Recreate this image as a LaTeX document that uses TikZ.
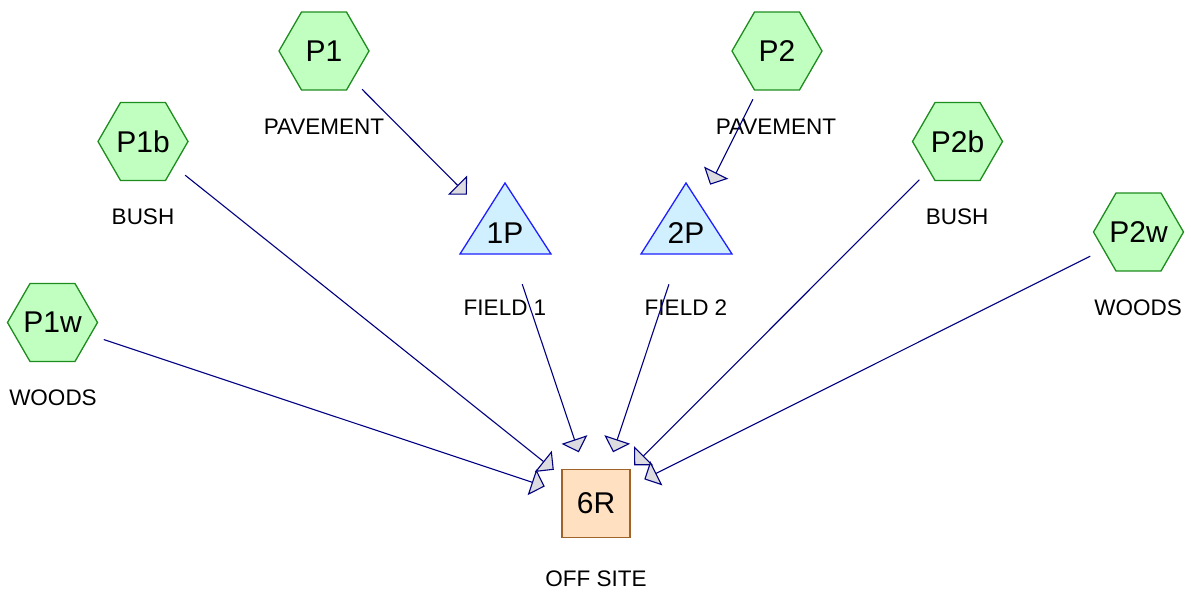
\documentclass[tikz,border=0pt]{standalone}
\usepackage{fontspec}
\setmainfont{Liberation Sans}
\usetikzlibrary{shapes.geometric,arrows.meta}
\definecolor{hexfill}{HTML}{C0FFC0}
\definecolor{hexdraw}{HTML}{1E8C1E}
\definecolor{trifill}{HTML}{D0F0FF}
\definecolor{tridraw}{HTML}{2020FF}
\definecolor{sqfill}{HTML}{FFE0C0}
\definecolor{sqdraw}{HTML}{A0642A}
\definecolor{linkcol}{HTML}{000080}
\definecolor{tipfill}{HTML}{DCDCE0}
\newcommand{\hx}[1]{\makebox[0pt]{#1}}
\begin{document}
\begin{tikzpicture}[x=1pt,y=-1pt,
  hexnode/.style={regular polygon, regular polygon sides=6, minimum size=90pt,
    inner sep=0pt, fill=hexfill, draw=hexdraw, line width=1.3pt,
    font=\fontsize{30}{34}\selectfont},
  trishape/.style={fill=trifill, draw=tridraw, line width=1.3pt, line join=miter},
  trinode/.style={inner sep=0pt, font=\fontsize{30}{34}\selectfont},
  sqnode/.style={rectangle, minimum size=68pt, inner sep=0pt, fill=sqfill,
    draw=sqdraw, line width=1.5pt, font=\fontsize{30}{34}\selectfont},
  lab/.style={inner sep=0pt, font=\fontsize{22.5}{26}\selectfont},
  link/.style={draw=linkcol, line width=1.1pt, shorten <=54pt, shorten >=54pt,
    -{Triangle[length=13.5pt,width=27pt,fill=tipfill]}}
]
\useasboundingbox (0,0) rectangle (1191,595);

% source hexagons
\node[hexnode] (P1)  at (324,51)    {\hx{P1}};
\node[hexnode] (P2)  at (777,51)    {\hx{P2}};
\node[hexnode] (P1b) at (143,141.5) {\hx{P1b}};
\node[hexnode] (P2b) at (957.5,141.5) {\hx{P2b}};
\node[hexnode] (P1w) at (52.5,322.5) {\hx{P1w}};
\node[hexnode] (P2w) at (1138.5,232) {\hx{P2w}};

% triangles
\draw[trishape] (505,183) -- (551,254) -- (460,254) -- cycle;
\draw[trishape] (686,183) -- (732,254) -- (641,254) -- cycle;
\node[trinode] (1P) at (505,233) {1P};
\node[trinode] (2P) at (686,233) {2P};

% receptor
\node[sqnode] (6R) at (596,503.5) {6R};

% labels
\node[lab] (L1)  at (324,127)   {PAVEMENT};
\node[lab] (L2)  at (776,127)   {PAVEMENT};
\node[lab] (L1b) at (143,217)   {BUSH};
\node[lab] (L2b) at (957,217)   {BUSH};
\node[lab] (L1w) at (53,398)    {WOODS};
\node[lab] (L2w) at (1138,308)  {WOODS};
\node[lab] (LF1) at (505,308)   {FIELD 1};
\node[lab] (LF2) at (686,308)   {FIELD 2};
\node[lab] (L6)  at (596,579)   {OFF SITE};

% connectors
\draw[link] (P1.center)  -- (1P.center);
\draw[link] (P2.center)  -- (2P.center);
\draw[link] (P1w.center) -- (6R.center);
\draw[link] (P1b.center) -- (6R.center);
\draw[link] (1P.center)  -- (6R.center);
\draw[link] (2P.center)  -- (6R.center);
\draw[link] (P2b.center) -- (6R.center);
\draw[link] (P2w.center) -- (6R.center);
\end{tikzpicture}
\end{document}
